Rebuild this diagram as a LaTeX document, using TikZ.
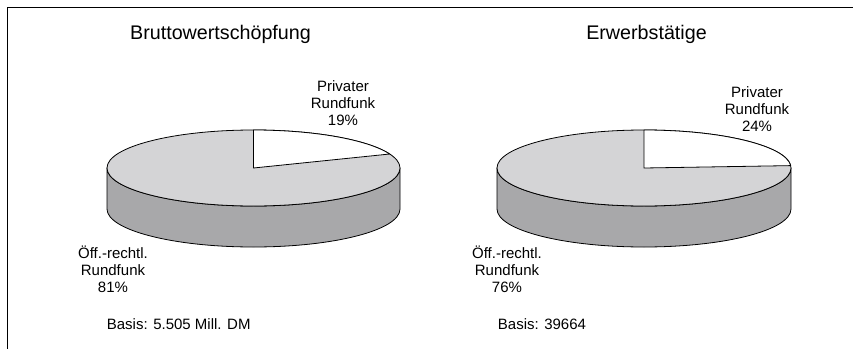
\documentclass[tikz,border=0pt]{standalone}
\usepackage{fontspec}
\setmainfont{Liberation Sans}
\usetikzlibrary{calc}
\definecolor{topgray}{RGB}{212,212,214}
\definecolor{sidegray}{RGB}{168,168,170}
\begin{document}
\begin{tikzpicture}[x=1pt,y=1pt,
  edge/.style={draw=black,line width=0.8pt,line join=round},
  titletext/.style={font=\fontsize{19.7}{23}\selectfont,inner sep=0pt,anchor=base},
  labeltext/.style={font=\fontsize{15}{17}\selectfont,inner sep=0pt,align=center,anchor=base},
  basistext/.style={font=\fontsize{15}{17}\selectfont,inner sep=0pt,anchor=base west}]
\useasboundingbox (0,0) rectangle (853,349);
% frame
\coordinate (fr) at (853,341.5);
\coordinate (fc) at (7.5,341.5);
\coordinate (fb) at (7.5,0);
\draw[line width=1.4pt] (fr) -- (fc) -- (fb);

% ---------- Pie 1 ----------
\def\rx{146.5}\def\ry{38}\def\dep{41}
\coordinate (c1) at (253.5,181);
% side
\filldraw[edge,fill=sidegray] ($(c1)+(-\rx,0)$) arc[start angle=180,end angle=360,x radius=\rx,y radius=\ry]
  -- ++(0,-\dep) arc[start angle=360,end angle=180,x radius=\rx,y radius=\ry] -- cycle;
% top
\filldraw[edge,fill=topgray] (c1) ellipse[x radius=\rx,y radius=\ry];
\filldraw[edge,fill=white] (c1) -- ($(c1)+(0,\ry)$) arc[start angle=90,end angle=21.6,x radius=\rx,y radius=\ry] -- cycle;

\node[titletext] (t1) at (220.5,309) {Bruttowertschöpfung};
\node[labeltext] (p1) at (343,224) {Privater\\Rundfunk\\19\%};
\node[labeltext] (o1) at (113,57) {Öff.-rechtl.\\Rundfunk\\81\%};
\node[basistext] (b1) at (106.7,20) {Basis: 5.505 Mill. DM};

% ---------- Pie 2 ----------
\def\rxb{147}
\coordinate (c2) at (644,181);
\filldraw[edge,fill=sidegray] ($(c2)+(-\rxb,0)$) arc[start angle=180,end angle=360,x radius=\rxb,y radius=\ry]
  -- ++(0,-\dep) arc[start angle=360,end angle=180,x radius=\rxb,y radius=\ry] -- cycle;
\filldraw[edge,fill=topgray] (c2) ellipse[x radius=\rxb,y radius=\ry];
\filldraw[edge,fill=white] (c2) -- ($(c2)+(0,\ry)$) arc[start angle=90,end angle=3.6,x radius=\rxb,y radius=\ry] -- cycle;

\node[titletext] (t2) at (646.5,309) {Erwerbstätige};
\node[labeltext] (p2) at (757,218) {Privater\\Rundfunk\\24\%};
\node[labeltext] (o2) at (507,57) {Öff.-rechtl.\\Rundfunk\\76\%};
\node[basistext] (b2) at (497.7,20) {Basis: 39664};
\end{tikzpicture}
\end{document}
